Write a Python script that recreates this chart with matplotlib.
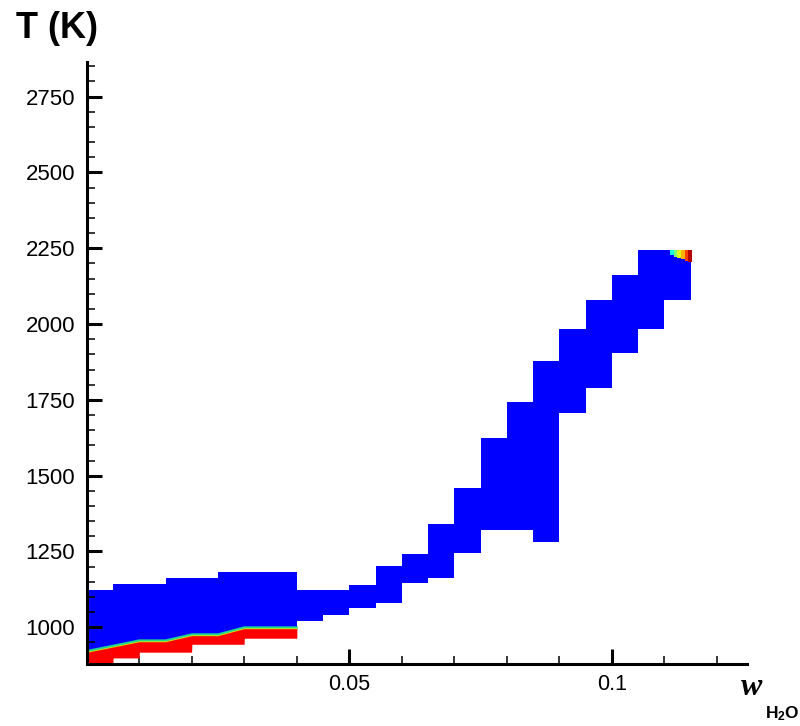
import matplotlib
matplotlib.use('Agg')
import matplotlib.pyplot as plt
import numpy as np

plt.rcParams['font.family'] = ['Liberation Sans', 'DejaVu Sans']
plt.rcParams['mathtext.fontset'] = 'custom'
plt.rcParams['mathtext.bf'] = 'Liberation Sans:bold'
plt.rcParams['mathtext.rm'] = 'Liberation Sans'

# column edges in w_H2O (bins of 0.005)
w_edges = np.arange(0, 0.1151, 0.005)
# lower / upper temperature of the blue band in each column (K)
col_lo = [880, 899, 918, 918, 944, 944, 964, 964, 1021, 1040, 1063, 1080,
          1145, 1162, 1244, 1320, 1320, 1281, 1707, 1790, 1905, 1984, 2080]
col_hi = [1122, 1142, 1142, 1163, 1163, 1183, 1183, 1183, 1122, 1122, 1139, 1201,
          1241, 1340, 1459, 1624, 1743, 1878, 1983, 2080, 2162, 2243, 2243]

# red/blue interface in the lean corner
iface_w = [0, 0.01, 0.015, 0.02, 0.025, 0.03, 0.04]
iface_T = [920, 955, 955, 975, 975, 998, 998]

# small hot spot in the top right corner
hot_w = [0.1111, 0.1118, 0.1125, 0.1132, 0.1139, 0.1146]
hot_level = [0.38, 0.5, 0.62, 0.72, 0.84, 0.95]
hot_bottom = [2226, 2222, 2218, 2213, 2208, 2204]
hot_top = 2244

fig = plt.figure(figsize=(8, 7.26), dpi=100)
ax = fig.add_axes([0.1086, 0.0854, 0.8248, 0.8292])

# blue band
lo = np.append(col_lo, col_lo[-1])
hi = np.append(col_hi, col_hi[-1])
ax.fill_between(w_edges, lo, hi, step='post', color='#0000ff', lw=0, zorder=1)

# red region below the interface
x_fine = np.linspace(0, 0.04, 801)
idx = np.minimum((x_fine / 0.005 + 1e-9).astype(int), len(col_lo) - 1)
idx[-1] = idx[-2]
lo_fine = np.array(col_lo)[idx]
if_fine = np.interp(x_fine, iface_w, iface_T)
ax.fill_between(x_fine, lo_fine, if_fine, color='#ff0000', lw=0, zorder=2)
ax.plot(iface_w, np.array(iface_T) - 2, color='#d8e800', lw=1.0, zorder=3)
ax.plot(iface_w, np.array(iface_T) + 2, color='#20d890', lw=1.4, zorder=3)

# hot spot
cmap = plt.get_cmap('jet')
for w, lev, b in zip(hot_w, hot_level, hot_bottom):
    ax.bar(w, hot_top - b, bottom=b, width=0.00072, align='edge',
           color=cmap(lev), lw=0, zorder=3)

ax.set_xlim(0, 0.1257)
ax.set_ylim(879, 2864)

ax.spines['top'].set_visible(False)
ax.spines['right'].set_visible(False)
ax.spines['left'].set_linewidth(2.2)
ax.spines['bottom'].set_linewidth(2.2)
for s in ax.spines.values():
    s.set_zorder(5)

ax.set_xticks([0.05, 0.1])
ax.set_xticklabels(['0.05', '0.1'])
ax.set_xticks(np.arange(0.01, 0.125, 0.01), minor=True)
ax.set_yticks([1000, 1250, 1500, 1750, 2000, 2250, 2500, 2750])
ax.set_yticks(np.arange(900, 2851, 50), minor=True)

ax.tick_params(which='major', direction='in', length=11, width=2.2, labelsize=16)
ax.tick_params(which='minor', direction='in', length=6, width=1.1)
ax.tick_params(axis='y', which='major', pad=8.5)
ax.tick_params(axis='x', which='major', pad=7, labelsize=15.5)

fig.text(16 / 800, 1 - 38 / 726, 'T (K)', fontsize=26, fontweight='bold',
         ha='left', va='baseline')
fig.text(741 / 800, 1 - 695 / 726, 'w', family=['Liberation Serif', 'DejaVu Serif'],
         fontsize=23, fontweight='bold', style='italic', ha='left', va='baseline')
fig.text(765 / 800, 1 - 718 / 726, r'$\mathbf{H_2O}$', fontsize=12.5,
         ha='left', va='baseline')

plt.savefig('out.png', dpi=100)
